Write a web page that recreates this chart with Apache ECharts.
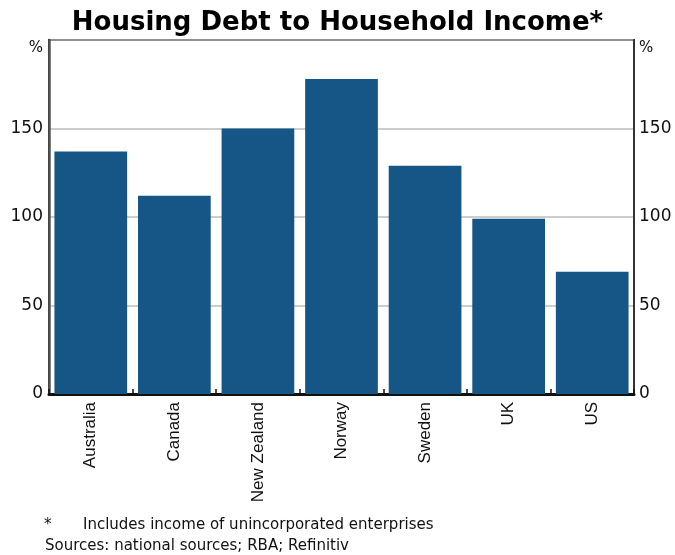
<!DOCTYPE html>
<html>
<head>
<meta charset="utf-8">
<script src="https://cdn.jsdelivr.net/npm/echarts@6/dist/echarts.min.js"></script>
<style>
html,body{margin:0;padding:0;background:#fff;}
#chart{width:675px;height:555px;}
</style>
</head>
<body>
<div id="chart"></div>
<script>
var titleText = 'Housing Debt to Household Income*';
var categories = ['Australia', 'Canada', 'New Zealand', 'Norway', 'Sweden', 'UK', 'US'];
var debtToIncome = [137, 112, 150, 178, 129, 99, 69];
var yTicks = [0, 50, 100, 150, 200];
var unitLabel = '%';
var footnote = 'Includes income of unincorporated enterprises';
var sources = 'Sources: national sources; RBA; Refinitiv';

var chart = echarts.init(document.getElementById('chart'));

function yLabel(v) {
  return v === yTicks[yTicks.length - 1] ? '{p|' + unitLabel + '}' : String(v);
}
var labelStyle = {
  fontFamily: 'DejaVu Sans', fontSize: 17, color: '#111',
  rich: { p: { fontFamily: 'DejaVu Sans', fontSize: 15, color: '#111', padding: [16, 0, 0, 0] } }
};

chart.setOption({
  animation: false,
  backgroundColor: '#fff',
  title: {
    text: titleText,
    left: 'center',
    top: 5,
    textStyle: { fontFamily: 'DejaVu Sans', fontWeight: 'bold', fontSize: 26, color: '#000' }
  },
  grid: {
    left: 49, right: 41, top: 40, bottom: 161,
    show: true, borderColor: '#111', borderWidth: 2, backgroundColor: 'transparent'
  },
  xAxis: {
    type: 'category',
    data: categories,
    axisLine: { show: true, lineStyle: { color: '#111', width: 3 } },
    axisTick: { show: true, inside: true, length: 5, lineStyle: { color: '#111', width: 1.5 } },
    axisLabel: { rotate: 90, margin: 8, fontFamily: 'Liberation Sans', fontSize: 17, color: '#111' }
  },
  yAxis: [
    {
      type: 'value', min: 0, max: 200, interval: 50, position: 'left',
      axisLine: { show: true, lineStyle: { color: '#555', width: 2.5 } },
      axisTick: { show: false },
      splitLine: { show: true, lineStyle: { color: '#bdbdbd', width: 1.5 } },
      axisLabel: Object.assign({ margin: 6, formatter: yLabel }, labelStyle)
    },
    {
      type: 'value', min: 0, max: 200, interval: 50, position: 'right',
      axisLine: { show: true, lineStyle: { color: '#333', width: 2 } },
      axisTick: { show: false },
      splitLine: { show: false },
      axisLabel: Object.assign({ margin: 5, formatter: yLabel }, labelStyle)
    }
  ],
  series: [{
    type: 'bar',
    data: debtToIncome,
    barCategoryGap: '13%',
    itemStyle: { color: '#165686' },
    z: 1
  }],
  graphic: [
    { type: 'text', left: 44, top: 518, style: { text: '*', fontFamily: 'DejaVu Sans', fontSize: 15, fill: '#111' } },
    { type: 'text', left: 83, top: 518, style: { text: footnote, fontFamily: 'DejaVu Sans', fontSize: 15, fill: '#111' } },
    { type: 'text', left: 45, top: 539, style: { text: sources, fontFamily: 'DejaVu Sans', fontSize: 15, fill: '#111' } }
  ]
});
</script>
</body>
</html>
